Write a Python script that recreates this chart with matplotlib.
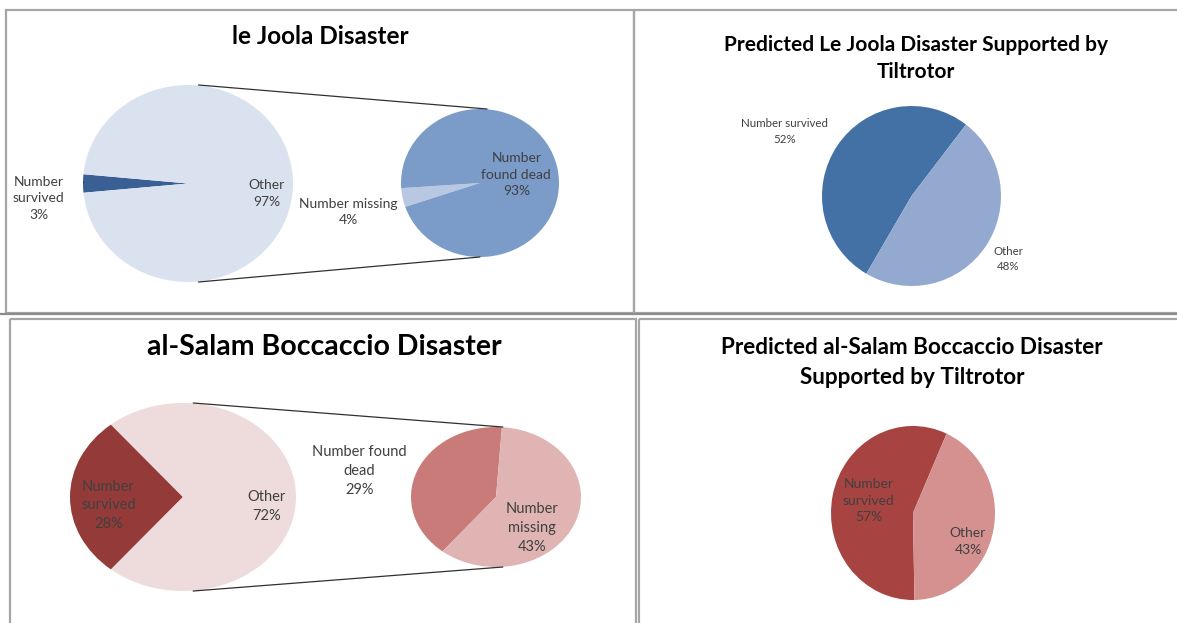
import matplotlib
matplotlib.use("Agg")
import matplotlib.pyplot as plt
from matplotlib.patches import Rectangle, ConnectionPatch

plt.rcParams["font.family"] = ["Lato", "DejaVu Sans"]

W, H = 1177, 623

# le Joola (actual)
joola_main_labels = ["Number survived", "Other"]
joola_main_values = [3, 97]
joola_sub_labels = ["Number missing", "Number found dead"]
joola_sub_values = [4, 93]

# le Joola (predicted with tiltrotor)
joola_pred_labels = ["Number survived", "Other"]
joola_pred_values = [52, 48]

# al-Salam Boccaccio (actual)
salam_main_labels = ["Number survived", "Other"]
salam_main_values = [28, 72]
salam_sub_labels = ["Number found dead", "Number missing"]
salam_sub_values = [29, 43]

# al-Salam Boccaccio (predicted with tiltrotor)
salam_pred_labels = ["Number survived", "Other"]
salam_pred_values = [57, 43]

LABEL_COLOR = "#404040"
BORDER = "#a6a6a6"

fig = plt.figure(figsize=(W / 100, H / 100), dpi=100)
fig.patch.set_facecolor("white")

# overlay in pixel coordinates for frames and titles
bg = fig.add_axes([0, 0, 1, 1])
bg.set_xlim(0, W)
bg.set_ylim(H, 0)
bg.axis("off")


def pie_axes(x0, y0, x1, y1):
    ax = fig.add_axes([x0 / W, 1 - y1 / H, (x1 - x0) / W, (y1 - y0) / H])
    ax.axis("off")
    return ax


def draw_pie(ax, values, colors, start):
    wedges, _ = ax.pie(values, colors=colors, startangle=start, radius=1,
                       counterclock=True, wedgeprops=dict(linewidth=0))
    # stretch the pie to fill the box like the spreadsheet chart does
    ax.set_xlim(-1, 1)
    ax.set_ylim(-1, 1)
    ax.set_aspect("auto")
    return wedges


def pct_label(ax, name, value, x, y, size, wrap=None, ls=1.45):
    text = (wrap if wrap else name) + f"\n{value}%"
    ax.text(x, y, text, ha="center", va="center", fontsize=size,
            color=LABEL_COLOR, linespacing=ls)


def connect(ax_a, ax_b, pa, pb):
    con = ConnectionPatch(xyA=pa, coordsA=ax_a.transData, xyB=pb,
                          coordsB=ax_b.transData, color="#303030", lw=0.9)
    fig.add_artist(con)


# panel frames
bg.add_patch(Rectangle((6, 10), 628, 303, fill=False, ec=BORDER, lw=1.6))
bg.add_patch(Rectangle((634, 10), 560, 303, fill=False, ec=BORDER, lw=1.6))
bg.add_patch(Rectangle((10, 319), 626, 320, fill=False, ec=BORDER, lw=1.6))
bg.add_patch(Rectangle((639, 319), 560, 320, fill=False, ec=BORDER, lw=1.6))
bg.plot([0, W], [313.5, 313.5], color="#8c8c8c", lw=1.6)

# titles
title_kw = dict(ha="center", va="center", fontweight="bold", color="black")
bg.text(320, 37, "le Joola Disaster", fontsize=17.5, **title_kw)
bg.text(916, 45, "Predicted Le Joola Disaster Supported by", fontsize=15, **title_kw)
bg.text(916, 72, "Tiltrotor", fontsize=15, **title_kw)
bg.text(324, 347, "al-Salam Boccaccio Disaster", fontsize=20.5, **title_kw)
bg.text(912, 347, "Predicted al-Salam Boccaccio Disaster", fontsize=16.2, **title_kw)
bg.text(912, 378, "Supported by Tiltrotor", fontsize=16.2, **title_kw)

# --- le Joola actual: pie of pie ---
ax1 = pie_axes(83, 85, 293, 282)
draw_pie(ax1, joola_main_values, ["#3a5f94", "#dbe2ef"],
         180 - joola_main_values[0] / sum(joola_main_values) * 180)
pct_label(ax1, joola_main_labels[0], joola_main_values[0], -1.42, -0.15, 10,
          wrap="Number\nsurvived")
ax1.plot([-1.18, -1.0], [0.02, 0.02], color="#303030", lw=1.0)
pct_label(ax1, joola_main_labels[1], joola_main_values[1], 0.75, -0.1, 10)

ax2 = pie_axes(401, 109, 559, 257)
draw_pie(ax2, joola_sub_values, ["#b9c8e2", "#7b9bc9"], 184)
pct_label(ax2, joola_sub_labels[0], joola_sub_values[0], -1.67, -0.39, 10)
pct_label(ax2, joola_sub_labels[1], joola_sub_values[1], 0.46, 0.11, 10,
          wrap="Number\nfound dead")
connect(ax1, ax2, (0.1, 1.0), (0.09, 1.0))
connect(ax1, ax2, (0.1, -1.0), (0.0, -1.0))

# --- le Joola predicted ---
ax3 = pie_axes(822, 106, 1001, 286)
draw_pie(ax3, joola_pred_values, ["#4471a5", "#94a9d0"], 52.5)
pct_label(ax3, joola_pred_labels[0], joola_pred_values[0], -1.42, 0.72, 8.3,
          ls=1.55)
pct_label(ax3, joola_pred_labels[1], joola_pred_values[1], 1.08, -0.70, 8.3,
          ls=1.55)

# --- al-Salam actual: pie of pie ---
ax4 = pie_axes(70, 403, 296, 591)
draw_pie(ax4, salam_main_values, ["#943a39", "#eedcdc"],
         180 - salam_main_values[0] / sum(salam_main_values) * 180)
pct_label(ax4, salam_main_labels[0], salam_main_values[0], -0.66, -0.09, 10.5,
          wrap="Number\nsurvived")
pct_label(ax4, salam_main_labels[1], salam_main_values[1], 0.74, -0.1, 10.5)

ax5 = pie_axes(411, 427, 581, 567)
draw_pie(ax5, salam_sub_values, ["#c97b79", "#e0b4b3"], 86)
pct_label(ax5, salam_sub_labels[0], salam_sub_values[0], -1.61, 0.37, 10.5,
          wrap="Number found\ndead")
pct_label(ax5, salam_sub_labels[1], salam_sub_values[1], 0.42, -0.44, 10.5,
          wrap="Number\nmissing")
connect(ax4, ax5, (0.09, 1.0), (0.08, 1.0))
connect(ax4, ax5, (0.09, -1.0), (0.08, -1.0))

# --- al-Salam predicted ---
ax6 = pie_axes(831, 426, 995, 600)
draw_pie(ax6, salam_pred_values, ["#a74442", "#d49190"], 65.8)
pct_label(ax6, salam_pred_labels[0], salam_pred_values[0], -0.54, 0.14, 10,
          wrap="Number\nsurvived")
pct_label(ax6, salam_pred_labels[1], salam_pred_values[1], 0.67, -0.33, 10)

fig.savefig("out.png", dpi=100, facecolor="white")
